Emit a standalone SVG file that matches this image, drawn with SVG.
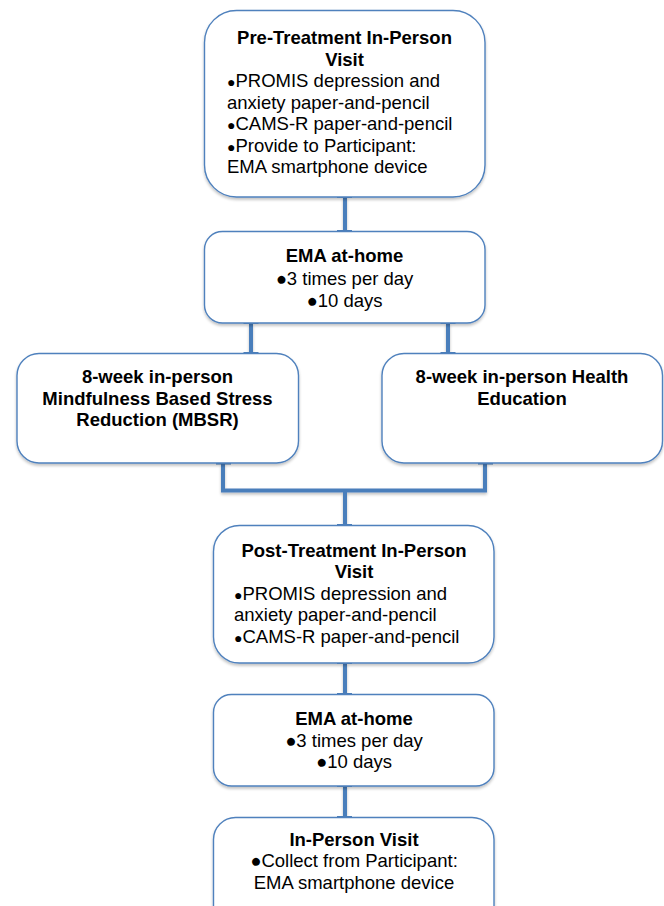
<svg xmlns="http://www.w3.org/2000/svg" width="664" height="906" viewBox="0 0 664 906">
<defs>
<filter id="sh" x="-10%" y="-10%" width="120%" height="130%">
<feGaussianBlur in="SourceAlpha" stdDeviation="1.5"/>
<feOffset dx="0" dy="2" result="b"/>
<feComponentTransfer><feFuncA type="linear" slope="0.25"/></feComponentTransfer>
<feMerge><feMergeNode/><feMergeNode in="SourceGraphic"/></feMerge>
</filter>
<style>
.box{fill:#ffffff;stroke:#4f81bd;stroke-width:1.4;filter:url(#sh)}
.t{font-family:"Liberation Sans",Arial,sans-serif;font-size:18.5px;fill:#000}
.b{font-weight:bold}
.c{text-anchor:middle}
.con{stroke:#4a7ebb;stroke-width:4;fill:none;stroke-linecap:butt;stroke-linejoin:miter}
.cap{fill:#4a7ebb}
</style>
</defs>
<rect width="664" height="906" fill="#ffffff"/>

<g id="connectors">
<g filter="url(#sh)">
<line class="con" x1="345" y1="197" x2="345" y2="231"/>
<line class="con" x1="251" y1="323" x2="251" y2="353"/>
<line class="con" x1="448" y1="323" x2="448" y2="353"/>
<polyline class="con" points="223,463 223,490.5 485,490.5 485,463"/>
<line class="con" x1="345" y1="490.5" x2="345" y2="525.5"/>
<line class="con" x1="345" y1="663" x2="345" y2="694"/>
<line class="con" x1="345" y1="786" x2="345" y2="817"/>
</g>
<rect class="cap" x="337" y="196" width="15" height="2"/>
<rect class="cap" x="337" y="230" width="15" height="2.5"/>
<rect class="cap" x="243.5" y="322" width="15" height="2"/>
<rect class="cap" x="243.5" y="352" width="15" height="2.5"/>
<rect class="cap" x="440.5" y="322" width="15" height="2"/>
<rect class="cap" x="440.5" y="352" width="15" height="2.5"/>
<rect class="cap" x="216" y="462" width="15" height="2.5"/>
<rect class="cap" x="478" y="462" width="15" height="2.5"/>
<rect class="cap" x="337" y="524" width="15" height="2.5"/>
<rect class="cap" x="337" y="662" width="15" height="2"/>
<rect class="cap" x="337" y="693" width="15" height="2.5"/>
<rect class="cap" x="337" y="785" width="15" height="2"/>
<rect class="cap" x="337" y="816" width="15" height="2.5"/>
</g>

<g id="pre-treatment">
<rect class="box" x="204.5" y="10.5" width="280.5" height="186.5" rx="32" ry="32"/>
<text class="t b c" x="344.5" y="44">Pre-Treatment In-Person</text>
<text class="t b c" x="344.5" y="65.5">Visit</text>
<text class="t" x="227" y="87"><tspan font-size="14">●</tspan>PROMIS depression and</text>
<text class="t" x="227" y="108.5">anxiety paper-and-pencil</text>
<text class="t" x="227" y="130"><tspan font-size="14">●</tspan>CAMS-R paper-and-pencil</text>
<text class="t" x="227" y="151.5"><tspan font-size="14">●</tspan>Provide to Participant:</text>
<text class="t" x="227" y="173">EMA smartphone device</text>
</g>

<g id="ema-1">
<rect class="box" x="204.5" y="231.5" width="280.5" height="91.5" rx="18" ry="18"/>
<text class="t b c" x="344.5" y="262">EMA at-home</text>
<text class="t c" x="344.5" y="285">●3 times per day</text>
<text class="t c" x="344.5" y="306.5">●10 days</text>
</g>

<g id="mbsr">
<rect class="box" x="17" y="353.5" width="281.5" height="109.5" rx="22" ry="22"/>
<text class="t b c" x="157.5" y="383">8-week in-person</text>
<text class="t b c" x="157.5" y="404.5">Mindfulness Based Stress</text>
<text class="t b c" x="157.5" y="426">Reduction (MBSR)</text>
</g>

<g id="health-education">
<rect class="box" x="382" y="353.5" width="280.5" height="109.5" rx="22" ry="22"/>
<text class="t b c" x="522" y="383">8-week in-person Health</text>
<text class="t b c" x="522" y="404.5">Education</text>
</g>

<g id="post-treatment">
<rect class="box" x="213.5" y="525.5" width="280.5" height="137.5" rx="26" ry="26"/>
<text class="t b c" x="354" y="556.5">Post-Treatment In-Person</text>
<text class="t b c" x="354" y="578">Visit</text>
<text class="t" x="234" y="599.5"><tspan font-size="14">●</tspan>PROMIS depression and</text>
<text class="t" x="234" y="621">anxiety paper-and-pencil</text>
<text class="t" x="234" y="642.5"><tspan font-size="14">●</tspan>CAMS-R paper-and-pencil</text>
</g>

<g id="ema-2">
<rect class="box" x="213.5" y="694.5" width="280.5" height="91.5" rx="18" ry="18"/>
<text class="t b c" x="354" y="725">EMA at-home</text>
<text class="t c" x="354" y="746.5">●3 times per day</text>
<text class="t c" x="354" y="768">●10 days</text>
</g>

<g id="in-person-visit">
<rect class="box" x="213.5" y="817.5" width="280.5" height="110" rx="22" ry="22"/>
<text class="t b c" x="354" y="845.5">In-Person Visit</text>
<text class="t c" x="354" y="867">●Collect from Participant:</text>
<text class="t c" x="354" y="888.5">EMA smartphone device</text>
</g>
</svg>
